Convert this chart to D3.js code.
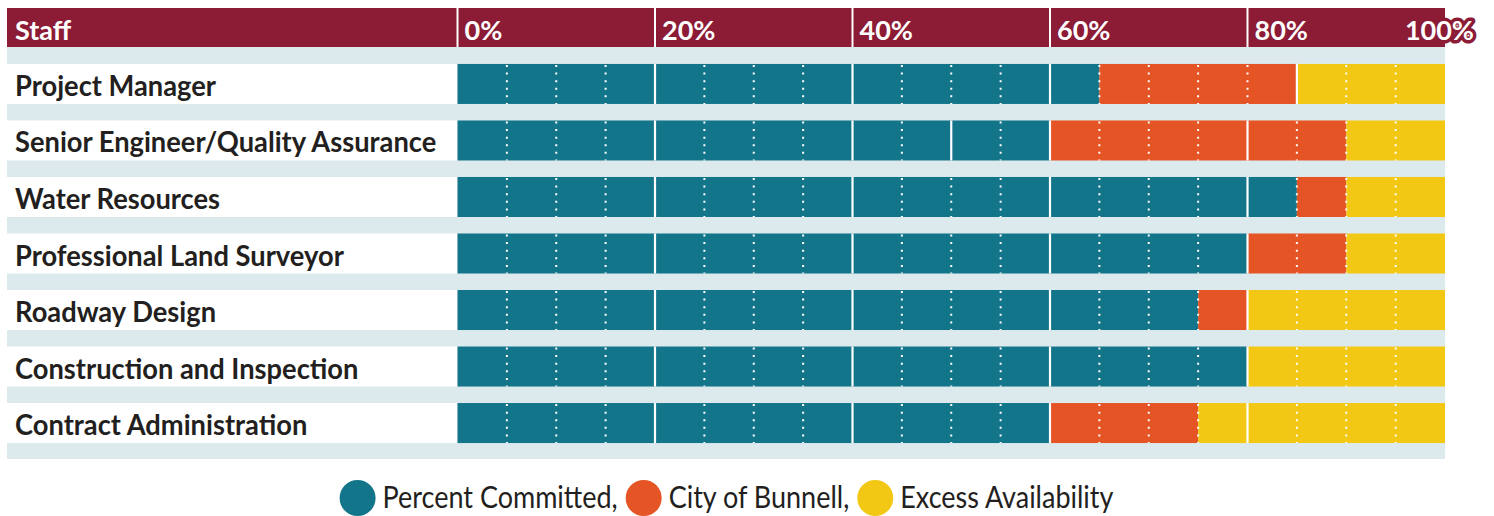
<!DOCTYPE html>
<html>
<head>
<meta charset="utf-8">
<script src="https://cdn.jsdelivr.net/npm/d3@7"></script>
<style>
  html, body { margin: 0; padding: 0; background: #fff; }
  svg { display: block; }
  text { font-family: Lato, "Open Sans", sans-serif; }
</style>
</head>
<body>
<svg id="chart" width="1494" height="516"></svg>
<script>
// Staff roles and their workload split (percent of capacity)
const staff = [
  "Project Manager",
  "Senior Engineer/Quality Assurance",
  "Water Resources",
  "Professional Land Surveyor",
  "Roadway Design",
  "Construction and Inspection",
  "Contract Administration"
];
const committed = [65, 60, 85, 80, 75, 80, 60];
const cityOfBunnell = [20, 30, 5, 10, 5, 0, 15];
const excess = [15, 10, 10, 10, 20, 20, 25];

// Solid block breaks per row (all other 5% steps are dotted)
const blockBreaks = [
  [20, 40, 60, 85],
  [20, 40, 50, 60, 80],
  [20, 40, 60, 80],
  [20, 40, 60, 80],
  [20, 40, 60, 80],
  [20, 40, 60, 80],
  [20, 40, 60, 80]
];

const tickValues = [0, 20, 40, 60, 80, 100];
const tickLabels = ["0%", "20%", "40%", "60%", "80%", "100%"];
const headerTitle = "Staff";
const seriesNames = ["Percent Committed,", "City of Bunnell,", "Excess Availability"];
const seriesColors = ["#13758A", "#E55424", "#F3C815"];

const svg = d3.select("#chart");
const left = 7;
const headerTop = 8, headerBottom = 47;
const headerColor = "#8C1B35";
const bandColor = "#DCEAEE";
const textColor = "#231F20";

const x = d3.scaleLinear().domain([0, 100]).range([457.5, 1445]);
const y = d3.scaleBand().domain(staff).range([headerBottom, 460])
  .paddingInner(0.292).paddingOuter(0.3);

// stacked data
const keys = ["committed", "city", "excess"];
const rows = staff.map((s, i) => ({ staff: s, committed: committed[i], city: cityOfBunnell[i], excess: excess[i] }));
const stacked = d3.stack().keys(keys)(rows);

// light band background
svg.append("rect")
  .attr("x", left).attr("y", headerBottom)
  .attr("width", x(100) - left).attr("height", 459 - headerBottom)
  .attr("fill", bandColor);

// white label rows
svg.append("g").selectAll("rect").data(staff).join("rect")
  .attr("x", 0).attr("y", d => y(d))
  .attr("width", x(0)).attr("height", y.bandwidth())
  .attr("fill", "#fff");

// bars
svg.append("g").selectAll("g").data(stacked).join("g")
  .attr("fill", (d, i) => seriesColors[i])
  .selectAll("rect").data(d => d).join("rect")
  .attr("x", d => x(d[0]))
  .attr("y", d => y(d.data.staff))
  .attr("width", d => x(d[1]) - x(d[0]))
  .attr("height", y.bandwidth());

// grid inside bars: dotted every 5%, solid at block breaks
const grid = svg.append("g");
staff.forEach((s, i) => {
  const y0 = y(s), y1 = y(s) + y.bandwidth();
  const solid = blockBreaks[i];
  const dotted = d3.range(5, 100, 5).filter(v => !solid.includes(v));
  grid.selectAll(null).data(dotted).join("line")
    .attr("x1", v => x(v)).attr("x2", v => x(v))
    .attr("y1", y0 + 1).attr("y2", y1)
    .attr("stroke", "#fff").attr("stroke-width", 2)
    .attr("stroke-dasharray", "2 5.6");
  grid.selectAll(null).data(solid).join("line")
    .attr("x1", v => x(v)).attr("x2", v => x(v))
    .attr("y1", y0).attr("y2", y1)
    .attr("stroke", "#fff").attr("stroke-width", 2.2);
});

// header bar
svg.append("rect")
  .attr("x", left).attr("y", headerTop)
  .attr("width", x(100) - left).attr("height", headerBottom - headerTop)
  .attr("fill", headerColor);

// header separators
svg.append("g").selectAll("line").data(tickValues.filter(v => v < 100)).join("line")
  .attr("x1", v => x(v)).attr("x2", v => x(v))
  .attr("y1", headerTop).attr("y2", headerBottom)
  .attr("stroke", "#fff").attr("stroke-width", 2);

// header title
svg.append("text")
  .attr("x", 15).attr("y", 40)
  .attr("fill", "#fff").attr("font-size", 27).attr("font-weight", 700)
  .text(headerTitle);

// tick labels (the last one sits past the bar end with a header-coloured halo)
const last = tickValues.length - 1;
svg.append("g").selectAll("text").data(tickValues).join("text")
  .attr("x", (v, i) => i === last ? x(v) + 29 : x(v) + 7)
  .attr("y", 40)
  .attr("text-anchor", (v, i) => i === last ? "end" : "start")
  .attr("fill", "#fff").attr("font-size", 27).attr("font-weight", 700)
  .attr("stroke", (v, i) => i === last ? headerColor : "none")
  .attr("stroke-width", 7).attr("stroke-linejoin", "round")
  .attr("paint-order", "stroke")
  .text((v, i) => tickLabels[i]);

// row labels
svg.append("g").selectAll("text").data(staff).join("text")
  .attr("transform", d => `translate(15,${y(d) + y.bandwidth() / 2 + 12}) scale(0.975,1)`)
  .attr("fill", textColor).attr("font-size", 28).attr("font-weight", 700)
  .text(d => d);

// legend
const legendScale = 0.9;
const legend = svg.append("g");
const items = legend.selectAll("g").data(seriesNames).join("g");
items.append("circle").attr("r", 18).attr("cx", 18).attr("cy", 0)
  .attr("fill", (d, i) => seriesColors[i]);
items.append("text")
  .attr("transform", `translate(43,10) scale(${legendScale},1)`)
  .attr("font-size", 30).attr("fill", textColor)
  .text(d => d);
const widths = [];
items.each(function () {
  const t = d3.select(this).select("text").node();
  widths.push(43 + t.getComputedTextLength() * legendScale);
});
const gap = 8;
const total = d3.sum(widths) + gap * (widths.length - 1);
let startX = 726.5 - total / 2;
items.attr("transform", (d, i) => {
  const tx = startX;
  startX += widths[i] + gap;
  return `translate(${tx},498)`;
});
</script>
</body>
</html>
